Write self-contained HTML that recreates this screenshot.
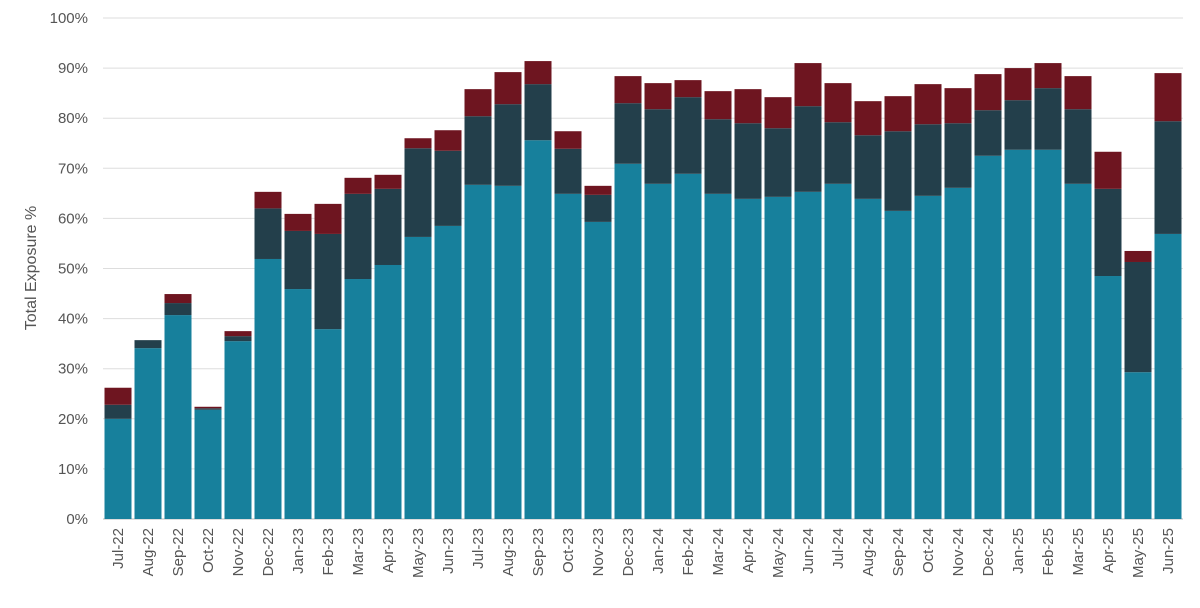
<!DOCTYPE html>
<html><head><meta charset="utf-8"><style>
body{margin:0;background:#fff;width:1200px;height:603px;overflow:hidden}
svg{font-family:"Liberation Sans",sans-serif}
</style></head><body>
<svg id="chart" width="1200" height="603" viewBox="0 0 1200 603">
<g id="grid"></g>
<g id="yticks"></g>
<g id="bars"></g>
<g id="xticks"></g>
<text transform="translate(36,268) rotate(-90)" text-anchor="middle" font-size="16" fill="#555">Total Exposure %</text>
</svg>
<script>
const categories=["Jul-22","Aug-22","Sep-22","Oct-22","Nov-22","Dec-22","Jan-23","Feb-23","Mar-23","Apr-23","May-23","Jun-23","Jul-23","Aug-23","Sep-23","Oct-23","Nov-23","Dec-23","Jan-24","Feb-24","Mar-24","Apr-24","May-24","Jun-24","Jul-24","Aug-24","Sep-24","Oct-24","Nov-24","Dec-24","Jan-25","Feb-25","Mar-25","Apr-25","May-25","Jun-25"];
const seriesA=[20,34.1,40.7,21.8,35.5,51.9,45.9,37.9,47.9,50.7,56.3,58.5,66.7,66.5,75.6,64.9,59.3,70.9,66.9,68.9,64.9,63.9,64.3,65.3,66.9,63.9,61.5,64.5,66.1,72.5,73.7,73.7,66.9,48.5,29.3,56.9];
const seriesB=[2.8,1.6,2.4,0.3,1.0,10.1,11.6,19.0,17.0,15.2,17.7,15.0,13.7,16.3,11.2,9.0,5.4,12.1,14.9,15.3,14.9,15.1,13.7,17.1,12.3,12.7,15.9,14.3,12.9,9.1,9.9,12.3,14.9,17.4,22.0,22.5];
const seriesC=[3.4,0,1.8,0.3,1.0,3.3,3.4,6.0,3.2,2.8,2.0,4.1,5.4,6.4,4.6,3.5,1.8,5.4,5.2,3.4,5.6,6.8,6.2,8.6,7.8,6.8,7.0,8.0,7.0,7.2,6.4,5.0,6.6,7.4,2.2,9.6];
const yTicks=[0,10,20,30,40,50,60,70,80,90,100];
const colors=["#17809c","#233f4b","#6e1520"];
const seriesNames=["series-a","series-b","series-c"];
const NS="http://www.w3.org/2000/svg";
const x0=103,x1=1183,yBase=519,yTop=18;
const step=(x1-x0)/categories.length,bw=27;
const y=v=>yBase-(v/100)*(yBase-yTop);
const xb=i=>x0+i*step+(step-bw)/2;
function mk(tag,attrs,parent){const e=document.createElementNS(NS,tag);for(const k in attrs)e.setAttribute(k,attrs[k]);parent.appendChild(e);return e;}
const grid=document.getElementById('grid'),yt=document.getElementById('yticks'),bars=document.getElementById('bars'),xt=document.getElementById('xticks');
yTicks.forEach(t=>{
 const l=mk('line',{x1:x0,x2:x1,y1:y(t),y2:y(t),stroke:t===0?'#bbb':'#ddd','stroke-width':1},grid);
 
 
 const tx=mk('text',{x:88,y:y(t)+5,'text-anchor':'end','font-size':15,fill:'#555'},yt);
 tx.textContent=t+'%';
 
 
});
const all=[seriesA,seriesB,seriesC];
categories.forEach((c,i)=>{
 let acc=0;
 all.forEach((s,k)=>{
  const v=s[i];
  if(v>0){
   const r=mk('rect',{x:xb(i),y:y(acc+v),width:bw,height:y(acc)-y(acc+v),fill:colors[k]},bars);
   
   
  }
  acc+=v;
 });
 const cx=xb(i)+bw/2+5;
 const t=mk('text',{transform:`translate(${cx},528) rotate(-90)`,'text-anchor':'end','font-size':15,fill:'#555'},xt);
 t.textContent=c;
 
 
});
</script>
</body></html>
